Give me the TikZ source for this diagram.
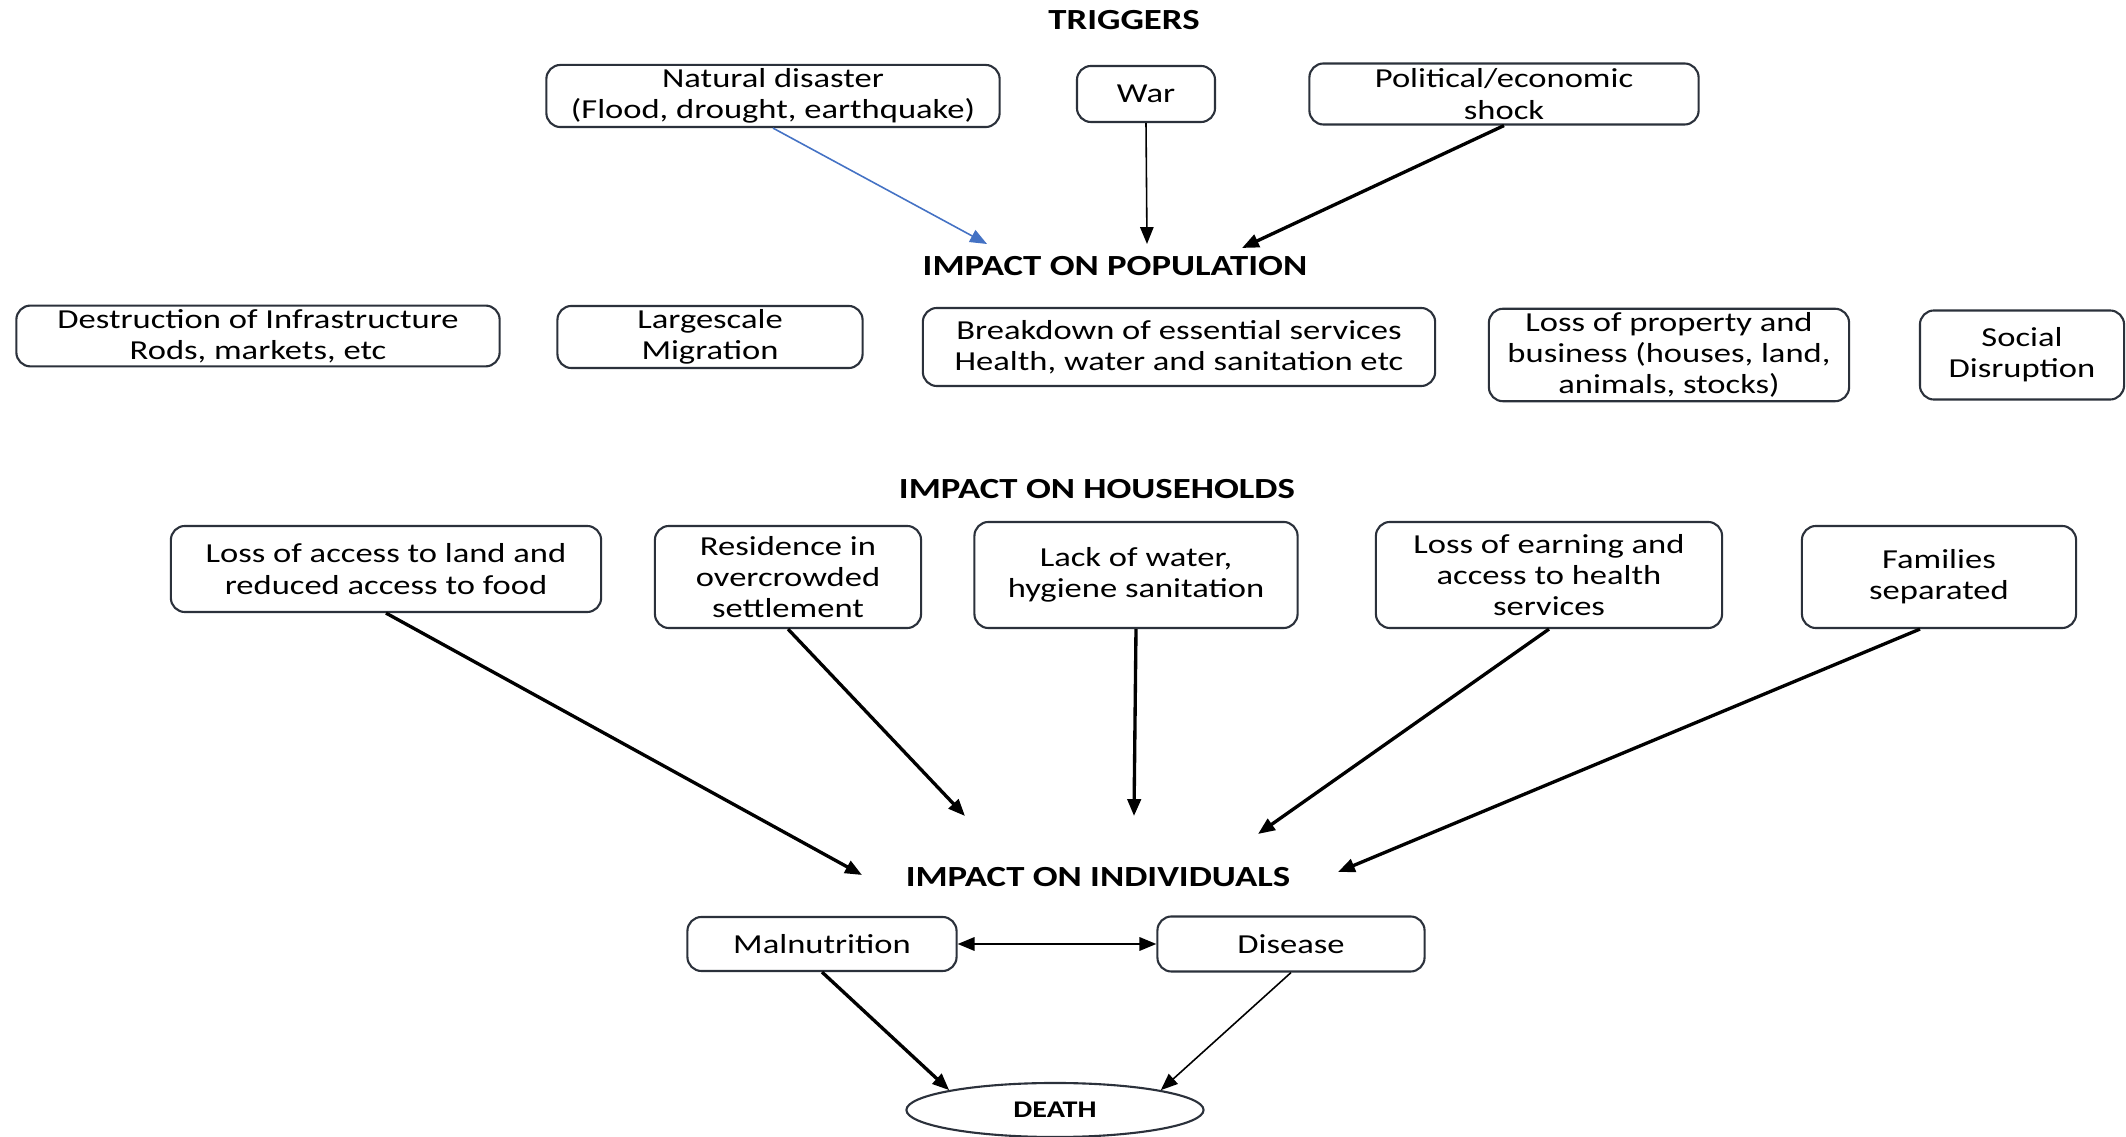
\documentclass[tikz,border=0pt]{standalone}
\usepackage{fontspec}
\setmainfont{Carlito}[FakeStretch=1.26]
\usepackage{xcolor}
\usetikzlibrary{shapes.geometric,arrows.meta,positioning}
\definecolor{boxline}{HTML}{2B313B}
\definecolor{trigblue}{HTML}{4472C4}

\begin{document}
\begin{tikzpicture}[
        x=0.01cm, y=-0.01cm,
        box/.style={rectangle, rounded corners=4pt, draw=boxline, line width=0.6pt,
                    align=center, inner sep=1pt, font=\fontsize{7.8}{8.9}\selectfont},
        heading/.style={inner sep=0pt, font=\fontsize{8.3}{9.5}\selectfont\bfseries},
        arrow/.style={-{Triangle[length=4.8pt, width=3.8pt]}, line width=0.95pt},
        thinarrow/.style={-{Triangle[length=4.8pt, width=3.8pt]}, line width=0.45pt}
    ]
        \useasboundingbox (0,0) rectangle (2126,1137);

        % triggers
        \node[heading] (trig) at (1124,20) {TRIGGERS};
        \node[box, minimum width=4.53cm, minimum height=0.59cm] (nat) at (773,96) {Natural disaster\\(Flood, drought, earthquake)};
        \node[box, minimum width=1.38cm, minimum height=0.56cm] (war) at (1146,94) {War};
        \node[box, minimum width=3.89cm, minimum height=0.61cm] (pol) at (1504,94) {Political/economic\\shock};

        % impact on population
        \node[heading] (pop) at (1115,266) {IMPACT ON POPULATION};
        \node[box, minimum width=4.83cm, minimum height=0.55cm] (infra) at (258,336) {Destruction of Infrastructure\\Rods, markets, etc};
        \node[box, minimum width=3.05cm, minimum height=0.58cm] (migr) at (710,337) {Largescale\\Migration};
        \node[box, minimum width=5.12cm, minimum height=0.78cm] (serv) at (1179,347) {Breakdown of essential services\\Health, water and sanitation etc};
        \node[box, minimum width=3.60cm, minimum height=0.90cm] (prop) at (1669,355) {Loss of property and\\business (houses, land,\\animals, stocks)};
        \node[box, minimum width=2.04cm, minimum height=0.89cm] (soc) at (2022,355) {Social\\Disruption};

        % impact on households
        \node[heading] (hh) at (1097,489) {IMPACT ON HOUSEHOLDS};
        \node[box, minimum width=4.30cm, minimum height=0.86cm] (land) at (386,569) {Loss of access to land and\\reduced access to food};
        \node[box, minimum width=2.66cm, minimum height=1.02cm] (res) at (788,577) {Residence in\\overcrowded\\settlement};
        \node[box, minimum width=3.23cm, minimum height=1.06cm] (water) at (1136,575) {Lack of water,\\hygiene sanitation};
        \node[box, minimum width=3.46cm, minimum height=1.06cm] (earn) at (1549,575) {Loss of earning and\\access to health\\services};
        \node[box, minimum width=2.74cm, minimum height=1.02cm] (fam) at (1939,577) {Families\\separated};

        % impact on individuals
        \node[heading] (ind) at (1098,877) {IMPACT ON INDIVIDUALS};
        \node[box, minimum width=2.69cm, minimum height=0.54cm] (maln) at (822,944) {Malnutrition};
        \node[box, minimum width=2.67cm, minimum height=0.55cm] (dis) at (1291,944) {Disease};
        \node[ellipse, draw=boxline, line width=0.6pt, minimum width=2.97cm, minimum height=0.54cm,
              inner sep=0pt, font=\fontsize{6.8}{7.5}\selectfont\bfseries] (death) at (1055,1110) {DEATH};

        % arrow ends round the headings
        \coordinate (popA) at (987,244);
        \coordinate (popB) at (1147,244);
        \coordinate (popC) at (1242,248);
        \coordinate (indA) at (862,875);
        \coordinate (indB) at (965,816);
        \coordinate (indC) at (1134,816);
        \coordinate (indD) at (1258,834);
        \coordinate (indE) at (1338,872);

        \draw[thinarrow, trigblue] (nat.south) -- (popA);
        \draw[thinarrow] (war.south) -- (popB);
        \draw[arrow] (pol.south) -- (popC);

        \draw[arrow] (land.south) -- (indA);
        \draw[arrow] (res.south) -- (indB);
        \draw[arrow] (water.south) -- (indC);
        \draw[arrow] (earn.south) -- (indD);
        \draw[arrow] ([xshift=-0.19cm]fam.south) -- (indE);

        \draw[{Triangle[length=4.8pt, width=3.8pt]}-{Triangle[length=4.8pt, width=3.8pt]}, line width=0.6pt] (maln) -- (dis);
        \draw[arrow] (maln.south) -- (death.north west);
        \draw[thinarrow] (dis.south) -- (death.north east);
    \end{tikzpicture}
\end{document}
